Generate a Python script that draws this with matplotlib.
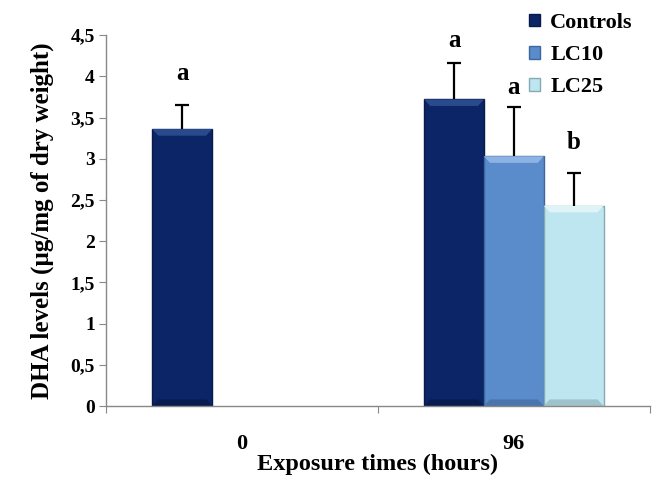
import matplotlib
matplotlib.use('Agg')
import matplotlib.pyplot as plt
from matplotlib.patches import Polygon
import numpy as np

# data
times = ['0', '96']
series = ['Controls', 'LC10', 'LC25']
controls = [3.36, 3.72]
controls_err = [0.29, 0.44]
lc10 = [np.nan, 3.03]
lc10_err = [np.nan, 0.60]
lc25 = [np.nan, 2.43]
lc25_err = [np.nan, 0.40]
letters = [['a', 'a'], [None, 'a'], [None, 'b']]
letter_gap = [[0.39, 0.27], [None, 0.24], [None, 0.37]]

colors = ['#0b2566', '#5a8bcb', '#bde6f0']
edges = ['#081a48', '#3f679c', '#86a9b2']
tops = ['#2a4a8e', '#8cb3e4', '#e0f4f8']
bottoms = ['#081c50', '#4a75ad', '#9ec3cc']

plt.rcParams['font.family'] = ['Liberation Serif', 'DejaVu Serif']
plt.rcParams['font.weight'] = 'bold'

fig = plt.figure(figsize=(6.59, 4.78), dpi=100)
ax = fig.add_axes([0.161, 0.1506, 0.825, 0.776])

x = np.arange(len(times))
w = 0.22
values = [controls, lc10, lc25]
errs = [controls_err, lc10_err, lc25_err]

# bevel size, in axes data units
bev_x, bev_y = 0.022, 0.08

for i, (vals, err) in enumerate(zip(values, errs)):
    pos = x + (i - 1) * w
    bars = ax.bar(pos, vals, w, color=colors[i], edgecolor=edges[i], linewidth=1,
                  label=series[i], zorder=2)
    for b in bars:
        h = b.get_height()
        if not np.isfinite(h):
            continue
        x0, x1 = b.get_x(), b.get_x() + b.get_width()
        ax.add_patch(Polygon([(x0, h), (x1, h), (x1 - bev_x, h - bev_y),
                              (x0 + bev_x, h - bev_y)], closed=True,
                             facecolor=tops[i], edgecolor='none', zorder=2.1))
        ax.add_patch(Polygon([(x0, 0), (x1, 0), (x1 - bev_x, bev_y),
                              (x0 + bev_x, bev_y)], closed=True,
                             facecolor=bottoms[i], edgecolor='none', zorder=2.1))
    eb = ax.errorbar(pos, vals, yerr=[np.zeros(len(err)), err], fmt='none',
                     ecolor='black', elinewidth=1.6, capsize=5, capthick=1.6,
                     zorder=3)
    eb[1][0].set_visible(False)
    for j in range(len(times)):
        if letters[i][j] is None:
            continue
        ax.text(pos[j], vals[j] + err[j] + letter_gap[i][j], letters[i][j],
                ha='center', va='center', fontsize=18, fontweight='bold')

ax.set_xlim(-0.5, 1.5)
ax.set_ylim(0, 4.5)
yt = np.arange(0, 4.51, 0.5)
ax.set_yticks(yt)
ax.set_yticklabels([('%g' % v).replace('.', ',') for v in yt], fontsize=14,
                   fontweight='bold')
ax.tick_params(axis='y', direction='out', length=5, color='#888888', pad=3)

ax.set_xticks([-0.5, 0.5, 1.5])
ax.set_xticklabels([])
ax.set_xticks(x, minor=True)
ax.set_xticklabels(times, minor=True, fontsize=16, fontweight='bold')
ax.tick_params(axis='x', which='major', direction='out', length=5, color='#888888')
ax.tick_params(axis='x', which='minor', length=0, pad=20)

for s in ['top', 'right']:
    ax.spines[s].set_visible(False)
for s in ['left', 'bottom']:
    ax.spines[s].set_color('#888888')
    ax.spines[s].set_linewidth(1)

ax.set_xlabel('Exposure times (hours)', fontsize=17.5, fontweight='bold', labelpad=0)
ax.set_ylabel('DHA levels (µg/mg of dry weight)', fontsize=18, fontweight='bold',
              labelpad=12)

ax.legend(loc='upper left', bbox_to_anchor=(529 / 659, 1 - 13 / 478),
          bbox_transform=fig.transFigure, frameon=False,
          prop={'weight': 'bold', 'size': 16}, handlelength=0.5, handleheight=0.5,
          handletextpad=0.45, labelspacing=0.55, borderpad=0, borderaxespad=0)

fig.savefig('out.png', dpi=100)
